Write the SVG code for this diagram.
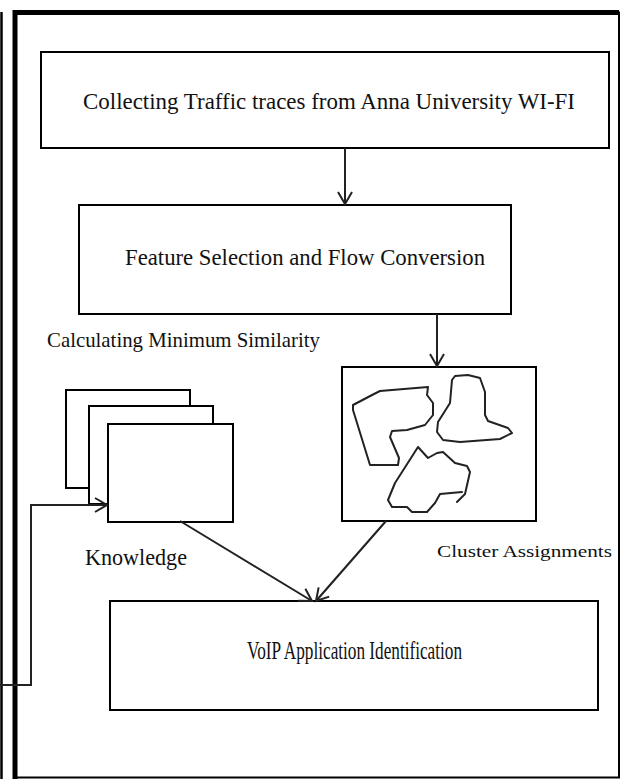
<svg xmlns="http://www.w3.org/2000/svg" width="622" height="779" viewBox="0 0 622 779">
<defs>
<style>
.box{fill:#fff;stroke:#000;stroke-width:2}
.ln{fill:none;stroke:#222;stroke-width:2}
.blob{fill:none;stroke:#222;stroke-width:2;stroke-linejoin:round;stroke-linecap:round}
.t{font-family:"Liberation Serif","Times New Roman",serif;fill:#111}
</style>
<marker id="arr" markerWidth="16" markerHeight="16" refX="13" refY="8" orient="auto" markerUnits="userSpaceOnUse">
<path d="M1,1 L13,8 L1,15" fill="none" stroke="#222" stroke-width="2"/>
</marker>
</defs>
<rect width="622" height="779" fill="#fff"/>
<g id="frame">
<line x1="1.5" y1="12" x2="1.5" y2="779" stroke="#000" stroke-width="2.5"/>
<path d="M15,779 V12.5 H619 V777.5 H15" fill="none" stroke="#000" stroke-width="2"/>
<path d="M15,779 V12.5 H619" fill="none" stroke="#000" stroke-width="5"/>
</g>
<g id="n1">
<rect class="box" x="41" y="52" width="568" height="96"/>
<text class="t" x="83" y="109" font-size="23" textLength="492" lengthAdjust="spacingAndGlyphs">Collecting  Traffic traces from Anna University WI-FI</text>
</g>
<g id="n2">
<rect class="box" x="79" y="205" width="432" height="109"/>
<text class="t" x="125" y="265" font-size="24" textLength="360" lengthAdjust="spacingAndGlyphs">Feature Selection and Flow Conversion</text>
</g>
<g id="label-sim">
<text class="t" x="47" y="347" font-size="21" textLength="273" lengthAdjust="spacingAndGlyphs">Calculating Minimum Similarity</text>
</g>
<g id="n3">
<rect class="box" x="342" y="367" width="194" height="154"/>
<path class="blob" d="M428,387 L380,391 L374,394 L353,405 L353,410 L370,465 L398,465 L399,458 L390,437 L392,431 L407,430 L425,425 L433,415 L433,403 L427,395 Z"/>
<path class="blob" d="M455,376 L452,380 L450,403 L438,422 L437,432 L443,440 L460,442 L500,439 L512,433 L508,428 L488,421 L485,415 L485,392 L480,378 L468,375 Z"/>
<path class="blob" d="M457,502 L465,494 L470,472 L467,466 L455,463 L443,452 L437,453 L428,458 L418,447 L395,483 L388,500 L392,507 L407,507 L412,512 L427,512 L435,503 L440,494 L462,492"/>
</g>
<g id="n4">
<rect class="box" x="66" y="390" width="124" height="98"/>
<rect class="box" x="89" y="406" width="124" height="98"/>
<rect class="box" x="108" y="424" width="125" height="98"/>
</g>
<g id="label-knowledge">
<text class="t" x="85" y="565" font-size="24" textLength="102" lengthAdjust="spacingAndGlyphs">Knowledge</text>
</g>
<g id="label-cluster">
<text class="t" x="437" y="557" font-size="17" textLength="175" lengthAdjust="spacingAndGlyphs">Cluster Assignments</text>
</g>
<g id="n5">
<rect class="box" x="110" y="601" width="488" height="109"/>
<text class="t" x="247" y="659" font-size="25" textLength="215" lengthAdjust="spacingAndGlyphs">VoIP Application Identification</text>
</g>
<g id="connectors">
<line class="ln" x1="345" y1="148" x2="345" y2="204" marker-end="url(#arr)"/>
<line class="ln" x1="437" y1="314" x2="437" y2="366" marker-end="url(#arr)"/>
<line class="ln" x1="180" y1="521" x2="312" y2="601" marker-end="url(#arr)"/>
<line class="ln" x1="386" y1="521" x2="316" y2="601" marker-end="url(#arr)"/>
<path class="ln" d="M0,685 H31 V505 H107" marker-end="url(#arr)"/>
</g>
</svg>
